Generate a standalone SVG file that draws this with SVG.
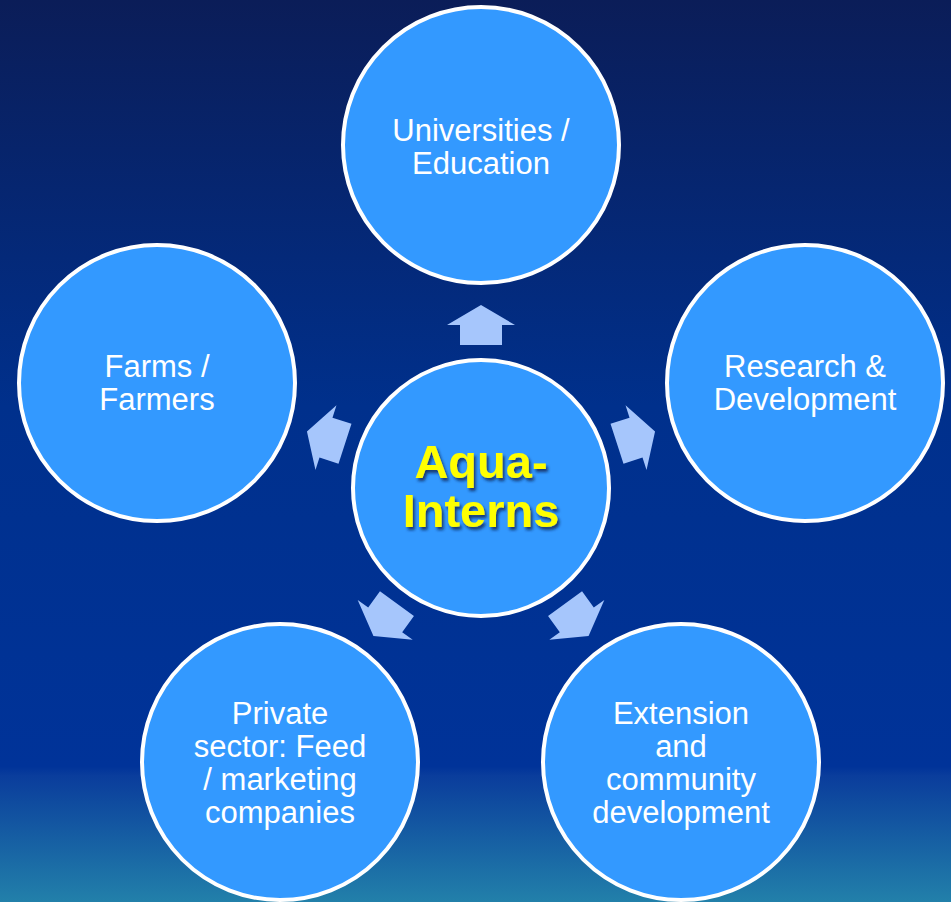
<svg xmlns="http://www.w3.org/2000/svg" width="951" height="902" viewBox="0 0 951 902">
<defs>
<linearGradient id="bg" x1="0" y1="0" x2="0" y2="1">
<stop offset="0" stop-color="#0b1d58"/>
<stop offset="0.45" stop-color="#00308c"/>
<stop offset="0.85" stop-color="#003399"/>
<stop offset="0.86" stop-color="#0a3d9c"/>
<stop offset="1" stop-color="#2280aa"/>
</linearGradient>
<filter id="sh" x="-20%" y="-20%" width="140%" height="140%">
<feDropShadow dx="2" dy="3" stdDeviation="1.5" flood-color="#0a2050" flood-opacity="0.8"/>
</filter>
<polygon id="arr" points="0,-20 34,0 21,0 21,20 -21,20 -21,0 -34,0"/>
</defs>
<style>
.node circle{fill:#3399ff;stroke:#ffffff;stroke-width:4}
.lbl{font-family:"Liberation Sans",Arial,sans-serif;font-size:31px;fill:#ffffff;text-anchor:middle}
.ctr{font-family:"Liberation Sans",Arial,sans-serif;font-size:47px;font-weight:bold;fill:#ffff00;text-anchor:middle;filter:url(#sh)}
.arrow{fill:#a6c6fc}
</style>
<rect width="951" height="902" fill="url(#bg)"/>
<g id="connectors" class="arrow">
<use href="#arr" transform="translate(481,488) rotate(0) translate(0,-163)"/>
<use href="#arr" transform="translate(481,488) rotate(72) translate(0,-163)"/>
<use href="#arr" transform="translate(481,488) rotate(144) translate(0,-163)"/>
<use href="#arr" transform="translate(481,488) rotate(216) translate(0,-163)"/>
<use href="#arr" transform="translate(481,488) rotate(288) translate(0,-163)"/>
</g>
<g id="center" class="node">
<circle cx="481" cy="488" r="128"/>
<text class="ctr" x="481" y="478">Aqua-</text>
<text class="ctr" x="481" y="527">Interns</text>
</g>
<g id="universities" class="node">
<circle cx="481" cy="145" r="138"/>
<text class="lbl" x="481" y="141">Universities /</text>
<text class="lbl" x="481" y="174">Education</text>
</g>
<g id="research" class="node">
<circle cx="805" cy="383" r="138"/>
<text class="lbl" x="805" y="377">Research &amp;</text>
<text class="lbl" x="805" y="410">Development</text>
</g>
<g id="extension" class="node">
<circle cx="681" cy="762" r="138"/>
<text class="lbl" x="681" y="724">Extension</text>
<text class="lbl" x="681" y="757">and</text>
<text class="lbl" x="681" y="790">community</text>
<text class="lbl" x="681" y="823">development</text>
</g>
<g id="private" class="node">
<circle cx="280" cy="762" r="138"/>
<text class="lbl" x="280" y="724">Private</text>
<text class="lbl" x="280" y="757">sector: Feed</text>
<text class="lbl" x="280" y="790">/ marketing</text>
<text class="lbl" x="280" y="823">companies</text>
</g>
<g id="farms" class="node">
<circle cx="157" cy="383" r="138"/>
<text class="lbl" x="157" y="377">Farms /</text>
<text class="lbl" x="157" y="410">Farmers</text>
</g>
</svg>
